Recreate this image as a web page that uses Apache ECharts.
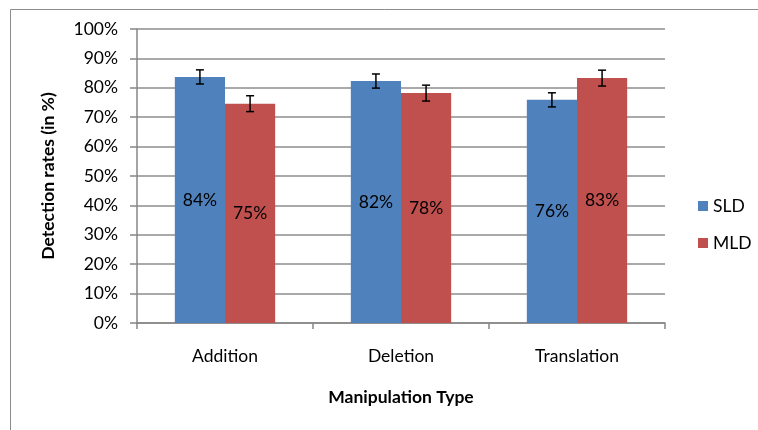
<!DOCTYPE html>
<html><head><meta charset="utf-8">
<script src="https://cdn.jsdelivr.net/npm/echarts@6/dist/echarts.min.js"></script>
<style>html,body{margin:0;padding:0;background:#fff}#c{width:758px;height:430px}</style>
</head><body><div id="c"></div>
<script>
const categories = ['Addition', 'Deletion', 'Translation'];
const sldValues = [83.7, 82.3, 75.9];
const mldValues = [74.6, 78.2, 83.3];
const sldErrors = [2.4, 2.4, 2.4];
const mldErrors = [2.7, 2.7, 2.7];
const sldLabels = ['84%', '82%', '76%'];
const mldLabels = ['75%', '78%', '83%'];
const yTicks = [0, 10, 20, 30, 40, 50, 60, 70, 80, 90, 100];

const FONT = 'Lato, "Liberation Sans", sans-serif';
const FS = 17.5;
const GAP = 0.43;

function errSeries(name, vals, errs, side) {
  return {
    type: 'custom', name: name + ' err', silent: true, z: 10,
    data: vals.map((v, i) => [i, v, errs[i]]),
    renderItem: function (params, api) {
      const i = api.value(0), v = api.value(1), e = api.value(2);
      const catW = api.size([1, 0])[0];
      const bw = catW * (1 - GAP) / 2;
      const c = api.coord([i, v]);
      const x = c[0] + side * bw / 2;
      const yTop = api.coord([i, v + e])[1];
      const yBot = api.coord([i, v - e])[1];
      const cap = 4;
      const st = { stroke: '#000', lineWidth: 1.5 };
      return { type: 'group', children: [
        { type: 'line', shape: { x1: x, y1: yTop, x2: x, y2: yBot }, style: st },
        { type: 'line', shape: { x1: x - cap, y1: yTop, x2: x + cap, y2: yTop }, style: st },
        { type: 'line', shape: { x1: x - cap, y1: yBot, x2: x + cap, y2: yBot }, style: st }
      ]};
    }
  };
}

const chart = echarts.init(document.getElementById('c'), null, { renderer: 'canvas' });
chart.setOption({
  animation: false,
  textStyle: { fontFamily: FONT },
  graphic: [{ type: 'rect', left: 8, top: 7, shape: { x: 0, y: 0, width: 800, height: 500 },
    style: { fill: 'none', stroke: '#8c8c8c', lineWidth: 1 }, silent: true }],
  grid: { left: 137, right: 93, top: 29, bottom: 107 },
  legend: {
    orient: 'vertical', left: 693, top: 192, itemGap: 19,
    itemWidth: 10, itemHeight: 10, icon: 'rect',
    textStyle: { fontFamily: FONT, fontSize: FS, color: '#000', padding: [0, 0, 0, 0] },
    data: ['SLD', 'MLD']
  },
  xAxis: {
    type: 'category', data: categories,
    name: 'Manipulation Type', nameLocation: 'middle', nameGap: 65,
    nameTextStyle: { fontFamily: FONT, fontWeight: 'bold', fontSize: FS, color: '#000' },
    axisLine: { lineStyle: { color: '#868686', width: 1.5 } },
    axisTick: { show: true, length: 6, lineStyle: { color: '#868686', width: 1.5 } },
    axisLabel: { fontFamily: FONT, fontSize: FS, color: '#000', margin: 24 }
  },
  yAxis: {
    type: 'value', min: 0, max: 100, interval: 10,
    name: 'Detection rates (in %)', nameLocation: 'middle', nameGap: 80,
    nameTextStyle: { fontFamily: FONT, fontWeight: 'bold', fontSize: FS, color: '#000' },
    axisLine: { show: true, lineStyle: { color: '#868686', width: 1.5 } },
    axisTick: { show: true, length: 7, lineStyle: { color: '#868686', width: 1.5 } },
    axisLabel: { fontFamily: FONT, fontSize: FS, color: '#000', margin: 19,
      formatter: v => yTicks.includes(v) ? v + '%' : '' },
    splitLine: { lineStyle: { color: '#8c8c8c', width: 1.5 } }
  },
  series: [
    { name: 'SLD', type: 'bar', data: sldValues, barGap: '0%', barCategoryGap: (GAP * 100) + '%',
      itemStyle: { color: '#4F81BD' },
      label: { show: true, position: 'inside', fontFamily: FONT, fontSize: FS, color: '#000',
        formatter: p => sldLabels[p.dataIndex] } },
    { name: 'MLD', type: 'bar', data: mldValues, barGap: '0%', barCategoryGap: (GAP * 100) + '%',
      itemStyle: { color: '#C0504D' },
      label: { show: true, position: 'inside', fontFamily: FONT, fontSize: FS, color: '#000',
        formatter: p => mldLabels[p.dataIndex] } },
    errSeries('SLD', sldValues, sldErrors, -1),
    errSeries('MLD', mldValues, mldErrors, 1)
  ]
});
</script></body></html>
